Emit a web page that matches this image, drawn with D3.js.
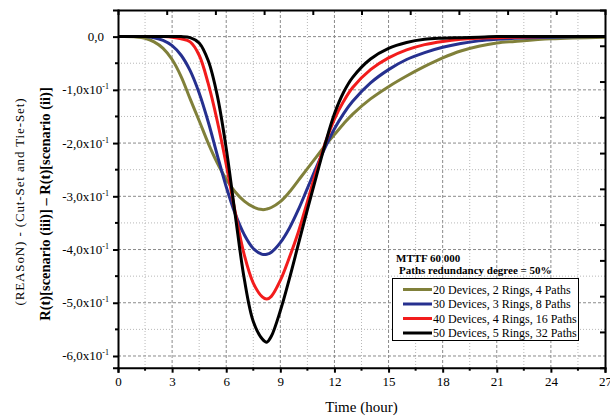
<!DOCTYPE html>
<html>
<head>
<meta charset="utf-8">
<script src="https://cdn.jsdelivr.net/npm/d3@7"></script>
<style>
  body { margin: 0; background: #fff; }
  svg { font-family: "Liberation Serif", "Times New Roman", serif; }
</style>
</head>
<body>
<div id="chart"></div>
<script>
// time (hour)
const times = [0, 1, 1.5, 2, 2.5, 3, 3.5, 4, 4.5, 5, 5.5, 6, 6.5, 7, 7.5, 8, 8.25, 8.5, 9, 9.5, 10, 10.5, 11, 11.5, 12, 12.5, 13, 14, 15, 16, 17, 18, 19, 20, 21, 22, 24, 27];

const dev20 = [0, -0.0005, -0.003, -0.01, -0.022, -0.043, -0.075, -0.117, -0.158, -0.2, -0.237, -0.268, -0.292, -0.309, -0.32, -0.325, -0.324, -0.321, -0.31, -0.292, -0.27, -0.248, -0.226, -0.204, -0.184, -0.164, -0.146, -0.117, -0.094, -0.074, -0.056, -0.04, -0.027, -0.018, -0.012, -0.009, -0.004, -0.001];
const dev30 = [0, 0, 0, -0.002, -0.007, -0.017, -0.035, -0.064, -0.106, -0.16, -0.222, -0.282, -0.333, -0.372, -0.398, -0.409, -0.409, -0.405, -0.387, -0.36, -0.325, -0.285, -0.245, -0.207, -0.173, -0.145, -0.122, -0.087, -0.062, -0.043, -0.03, -0.02, -0.013, -0.008, -0.005, -0.003, -0.001, 0];
const dev40 = [0, 0, 0, 0, 0, -0.001, -0.004, -0.01, -0.035, -0.088, -0.158, -0.24, -0.33, -0.41, -0.463, -0.489, -0.493, -0.488, -0.458, -0.415, -0.367, -0.31, -0.252, -0.199, -0.155, -0.122, -0.096, -0.062, -0.04, -0.025, -0.015, -0.009, -0.005, -0.003, -0.002, -0.001, 0, 0];
const dev50 = [0, 0, 0, 0, 0, 0, 0, -0.002, -0.012, -0.045, -0.11, -0.21, -0.335, -0.455, -0.535, -0.568, -0.574, -0.563, -0.515, -0.455, -0.39, -0.325, -0.262, -0.2, -0.145, -0.105, -0.077, -0.042, -0.022, -0.011, -0.005, -0.003, -0.002, -0.001, 0, 0, 0, 0];

const seriesNames = ['20 Devices, 2 Rings, 4 Paths', '30 Devices, 3 Rings, 8 Paths', '40 Devices, 4 Rings, 16 Paths', '50 Devices, 5 Rings, 32 Paths'];
const seriesColors = ['#80803a', '#26308f', '#f21c1c', '#000000'];
const seriesValues = [dev20, dev30, dev40, dev50];

const xTicks = [0, 3, 6, 9, 12, 15, 18, 21, 24, 27];
const yTicks = [0, -0.1, -0.2, -0.3, -0.4, -0.5, -0.6];
const yTickLabels = ['0,0', '-1,0x10', '-2,0x10', '-3,0x10', '-4,0x10', '-5,0x10', '-6,0x10'];

const width = 610, height = 419;
const margin = { top: 10, right: 5, bottom: 51.3, left: 118 };
const iw = width - margin.left - margin.right;
const ih = height - margin.top - margin.bottom;

const svg = d3.select('#chart').append('svg')
  .attr('width', width)
  .attr('height', height);

const g = svg.append('g')
  .attr('transform', `translate(${margin.left},${margin.top})`);

const x = d3.scaleLinear().domain([0, 27]).range([0, iw]);
const y = d3.scaleLinear().domain([-0.622, 0.05]).range([ih, 0]);

// secondary frame scales (top / right ticks are on their own spacing)
const xTop = d3.scaleLinear().domain([0, 30]).range([0, iw]);
const yRight = d3.scaleLinear().domain([0, 10]).range([0, ih]);

// grid
const xMinor = d3.range(1.5, 27, 3);
const yMinor = d3.range(-0.05, -0.62, -0.1);

g.append('g').selectAll('line').data(xTicks.slice(1, -1)).join('line')
  .attr('x1', d => x(d)).attr('x2', d => x(d))
  .attr('y1', 0).attr('y2', ih)
  .attr('stroke', '#8a8a8a').attr('stroke-width', 1).attr('stroke-dasharray', '3,2');
g.append('g').selectAll('line').data(xMinor).join('line')
  .attr('x1', d => x(d)).attr('x2', d => x(d))
  .attr('y1', 0).attr('y2', ih)
  .attr('stroke', '#b8b8b8').attr('stroke-width', 1).attr('stroke-dasharray', '1,2');
g.append('g').selectAll('line').data(yTicks).join('line')
  .attr('x1', 0).attr('x2', iw)
  .attr('y1', d => y(d)).attr('y2', d => y(d))
  .attr('stroke', '#8a8a8a').attr('stroke-width', 1).attr('stroke-dasharray', '3,2');
g.append('g').selectAll('line').data(yMinor).join('line')
  .attr('x1', 0).attr('x2', iw)
  .attr('y1', d => y(d)).attr('y2', d => y(d))
  .attr('stroke', '#b8b8b8').attr('stroke-width', 1).attr('stroke-dasharray', '1,2');

// curves
const line = d3.line()
  .x((d, i) => x(times[i]))
  .y(d => y(d))
  .curve(d3.curveCatmullRom.alpha(0.5));

g.append('g').selectAll('path').data(seriesValues).join('path')
  .attr('d', d => line(d))
  .attr('fill', 'none')
  .attr('stroke', (d, i) => seriesColors[i])
  .attr('stroke-width', 3)
  .attr('stroke-linejoin', 'round');

// axes
const bottomAxis = g.append('g')
  .attr('transform', `translate(0,${ih})`)
  .call(d3.axisBottom(x).tickValues(xTicks).tickSize(5).tickPadding(4).tickFormat(d3.format('d')));
bottomAxis.append('g').selectAll('line').data(xMinor).join('line')
  .attr('x1', d => x(d)).attr('x2', d => x(d))
  .attr('y1', 0).attr('y2', 3)
  .attr('stroke', '#000').attr('stroke-width', 2);

const leftAxis = g.append('g')
  .call(d3.axisLeft(y).tickValues(yTicks).tickSize(5).tickPadding(8).tickFormat(() => ''));
leftAxis.append('g').selectAll('line').data(yMinor).join('line')
  .attr('x1', -3).attr('x2', 0)
  .attr('y1', d => y(d)).attr('y2', d => y(d))
  .attr('stroke', '#000').attr('stroke-width', 2);

g.append('g')
  .call(d3.axisTop(xTop).tickValues(d3.range(3, 30, 3)).tickSize(-5).tickFormat(() => ''));
g.append('g')
  .attr('transform', `translate(${iw},0)`)
  .call(d3.axisRight(yRight).tickValues(d3.range(1, 10)).tickSize(-5).tickFormat(() => ''));

g.selectAll('.domain').attr('stroke', '#000').attr('stroke-width', 2);
g.selectAll('.tick line').attr('stroke', '#000').attr('stroke-width', 2);
bottomAxis.selectAll('.tick text')
  .attr('font-family', '"Liberation Serif", serif')
  .attr('font-size', 13).attr('fill', '#000');

// y tick labels with exponent
const yLab = g.append('g').selectAll('text').data(yTicks).join('text')
  .attr('x', (d, i) => i === 0 ? -14 : -9)
  .attr('y', d => y(d) + 4.5)
  .attr('text-anchor', 'end')
  .attr('font-size', 13);
yLab.append('tspan').text((d, i) => yTickLabels[i]);
yLab.filter((d, i) => i > 0).append('tspan')
  .attr('dy', -5).attr('font-size', 8).text('-1');

// axis titles
svg.append('text')
  .attr('x', margin.left + iw / 2)
  .attr('y', 412)
  .attr('text-anchor', 'middle')
  .attr('font-size', 15)
  .text('Time (hour)');

svg.append('text')
  .attr('transform', 'translate(50,204) rotate(-90)')
  .attr('text-anchor', 'middle')
  .attr('font-size', 14.5)
  .attr('font-weight', 'bold')
  .text('R(t)[scenario (iii)] \u2013 R(t)[scenario (ii)]');

svg.append('text')
  .attr('transform', 'translate(24,202) rotate(-90)')
  .attr('text-anchor', 'middle')
  .attr('font-size', 13)
  .attr('textLength', 207)
  .text('(REASoN) - (Cut-Set and Tie-Set)');

// legend
const leg = svg.append('g');
leg.append('text').attr('x', 396).attr('y', 262)
  .attr('font-size', 11).attr('font-weight', 'bold').text('MTTF 60 000');
leg.append('text').attr('x', 399).attr('y', 274)
  .attr('font-size', 11).attr('font-weight', 'bold').text('Paths redundancy degree = 50%');
leg.append('rect')
  .attr('x', 392.5).attr('y', 278.5).attr('width', 186).attr('height', 62)
  .attr('fill', '#fff').attr('stroke', '#000').attr('stroke-width', 1);
const items = leg.selectAll('g.item').data(seriesNames).join('g')
  .attr('class', 'item')
  .attr('transform', (d, i) => `translate(0,${289.5 + i * 14.5})`);
items.append('line')
  .attr('x1', 403).attr('x2', 432)
  .attr('stroke', (d, i) => seriesColors[i]).attr('stroke-width', 3);
items.append('text')
  .attr('x', 433).attr('y', 4)
  .attr('font-size', 12)
  .text(d => d);
</script>
</body>
</html>
